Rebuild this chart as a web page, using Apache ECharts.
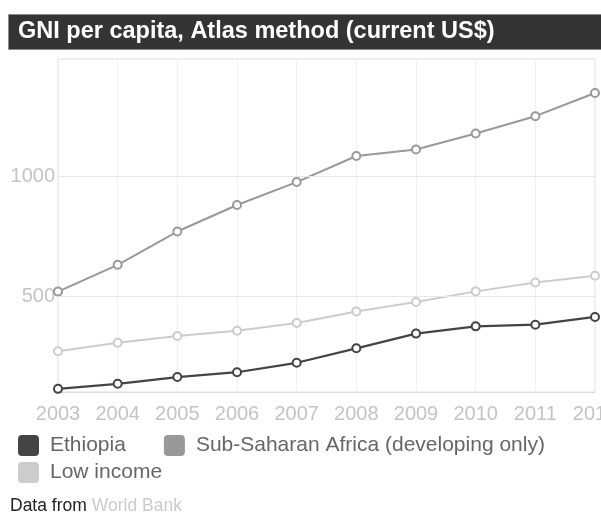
<!DOCTYPE html>
<html>
<head>
<meta charset="utf-8">
<script src="https://cdn.jsdelivr.net/npm/echarts@6/dist/echarts.min.js"></script>
<style>html,body{margin:0;padding:0;background:#fff}#c{width:601px;height:515px}</style>
</head>
<body>
<div id="c"></div>
<script>
var years = ['2003','2004','2005','2006','2007','2008','2009','2010','2011','2012'];
var ethiopia = [118, 139, 167, 187, 226, 286, 347, 377, 384, 416];
var subSaharan = [521, 632, 770, 880, 975, 1083, 1110, 1176, 1248, 1344];
var lowIncome = [274, 309, 337, 359, 391, 439, 478, 522, 559, 587];
var yTicks = [500, 1000];
var names = ['Ethiopia', 'Sub-Saharan Africa (developing only)', 'Low income'];
var colors = ['#444444', '#999999', '#cccccc'];

var FONT = 'Liberation Sans';
var ICON = 'path://M3,0 L16,0 Q19,0 19,3 L19,16 Q19,19 16,19 L3,19 Q0,19 0,16 L0,3 Q0,0 3,0 Z';
var chart = echarts.init(document.getElementById('c'), null, {renderer: 'canvas'});

function lineSeries(name, data, color, bw, lw) {
  return {
    name: name, type: 'line', data: data, z: 3,
    symbol: 'emptyCircle', symbolSize: 8,
    lineStyle: {color: color, width: lw},
    itemStyle: {color: color, borderColor: color, borderWidth: bw},
    emphasis: {disabled: true},
    animation: false
  };
}

var legendText = {color: '#666666', fontFamily: FONT, fontSize: 21, padding: [0, 0, 0, 7]};

chart.setOption({
  animation: false,
  color: colors,
  graphic: [{
    type: 'rect', left: 8, top: 14, z: 0,
    shape: {width: 600, height: 35},
    style: {fill: '#333433', stroke: '#8a8a8a', lineWidth: 1}
  }],
  title: [{
    text: 'GNI per capita, Atlas method (current US$)',
    left: 18, top: 14, padding: 0,
    textStyle: {color: '#ffffff', fontFamily: FONT, fontWeight: 'bold', fontSize: 23.5, lineHeight: 35}
  }, {
    text: '{a|Data from} {b|World Bank}',
    left: 10, top: 497, padding: 0,
    textStyle: {
      fontWeight: 'normal',
      rich: {
        a: {color: '#222222', fontFamily: FONT, fontSize: 17.5, fontWeight: 'normal'},
        b: {color: '#cccccc', fontFamily: FONT, fontSize: 17.5, fontWeight: 'normal'}
      }
    }
  }],
  legend: [{
    data: [names[0], names[1]],
    left: 18, top: 435, orient: 'horizontal', padding: 0,
    icon: ICON, itemWidth: 19, itemHeight: 19, itemGap: 38,
    selectedMode: false,
    textStyle: legendText
  }, {
    data: [names[2]],
    left: 18, top: 462, orient: 'horizontal', padding: 0,
    icon: ICON, itemWidth: 19, itemHeight: 19,
    selectedMode: false,
    textStyle: legendText
  }],
  grid: {left: 58, top: 59, right: 6, bottom: 123, show: true, borderColor: '#dddddd', borderWidth: 1, containLabel: false, outerBoundsMode: 'none'},
  xAxis: {
    type: 'category', data: years, boundaryGap: false,
    axisLine: {show: true, lineStyle: {color: '#dddddd'}},
    axisTick: {show: false},
    axisLabel: {interval: 0, color: '#c4c4c4', fontFamily: FONT, fontSize: 20, margin: 12},
    splitLine: {show: true, lineStyle: {color: '#f0f1f0', width: 1}}
  },
  yAxis: {
    type: 'value', min: 105, max: 1485,
    axisLine: {show: false},
    axisTick: {show: false, customValues: yTicks},
    axisLabel: {customValues: yTicks, color: '#c4c4c4', fontFamily: FONT, fontSize: 20, margin: 3,
      formatter: function (v) { return String(v); }},
    splitLine: {show: false}
  },
  series: [
    {
      type: 'line', data: [], z: 1, silent: true,
      markLine: {
        silent: true, symbol: 'none', animation: false,
        label: {show: false},
        lineStyle: {color: '#e6e6e6', width: 1, type: 'solid'},
        emphasis: {disabled: true},
        data: yTicks.map(function (v) { return {yAxis: v}; })
      }
    },
    lineSeries(names[0], ethiopia, colors[0], 2.2, 2.2),
    lineSeries(names[1], subSaharan, colors[1], 1.5, 2),
    lineSeries(names[2], lowIncome, colors[2], 1.5, 2)
  ]
});
</script>
</body>
</html>
